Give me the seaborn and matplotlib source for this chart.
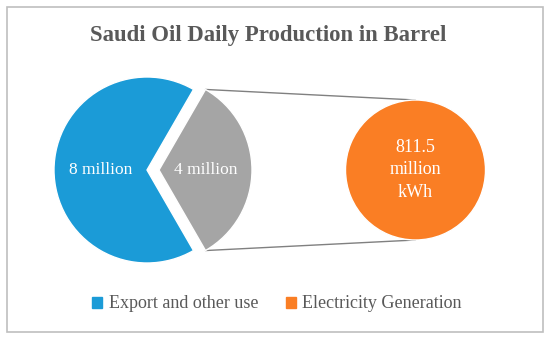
import numpy as np
import matplotlib.pyplot as plt
import matplotlib.patches as mpatches
import seaborn as sns

sns.set_theme(style='white')
plt.rcParams['font.family'] = ['Liberation Serif', 'DejaVu Serif']

title = 'Saudi Oil Daily Production in Barrel'
oil_values = [8, 4]
oil_labels = ['8 million', '4 million']
power_values = [811.5]
power_label = '811.5\nmillion\nkWh'
legend_labels = ['Export and other use', 'Electricity Generation']

blue = '#1B9BD7'
grey = '#A5A5A5'
orange = '#FA7E24'
text_grey = '#595959'

fig = plt.figure(figsize=(5.5, 3.39), dpi=100)
ax = fig.add_axes([0, 0, 1, 1])

# left pie, the smaller slice pulled out to the right
wedges, texts = ax.pie(
    oil_values, labels=oil_labels, colors=[blue, grey],
    startangle=60, center=(147, 170), radius=93, explode=[0, 12],
    labeldistance=0.5, textprops=dict(color='white', fontsize=12.5)
)
for t in texts:
    t.set_ha('center')
    t.set_va('center')

# right circle (the breakdown of the grey slice)
circ, _, ctexts = ax.pie(
    power_values, colors=[orange], center=(415.5, 170), radius=70,
    autopct=lambda p: power_label, pctdistance=0,
    textprops=dict(color='white', fontsize=13, linespacing=1.4)
)

# connector lines from the grey slice corners to the circle
g = wedges[1]
c = circ[0]
for ang in (g.theta1, g.theta2):
    a = np.deg2rad(ang)
    x0 = g.center[0] + g.r * np.cos(a)
    y0 = g.center[1] + g.r * np.sin(a)
    x1 = c.center[0]
    y1 = c.center[1] + np.sign(np.sin(a)) * c.r
    ax.plot([x0, x1], [y0, y1], color='#808080', lw=1.0, zorder=0)

ax.set_xlim(0, 550)
ax.set_ylim(339, 0)
ax.set_aspect('auto')
ax.axis('off')

fig.text(268 / 550, 1 - 36 / 339, title, ha='center', va='center',
         fontsize=16.4, fontweight='bold', color=text_grey)

handles = [mpatches.Patch(color=blue), mpatches.Patch(color=orange)]
fig.legend(handles, legend_labels, loc='center',
           bbox_to_anchor=(277 / 550, 1 - 304 / 339), ncol=2, frameon=False,
           fontsize=13, handlelength=0.55, handleheight=0.55,
           handletextpad=0.35, columnspacing=1.55, labelcolor=text_grey)

fig.add_artist(mpatches.Rectangle((7 / 550, 7 / 339), 536 / 550, 325 / 339,
                                  transform=fig.transFigure, fill=False,
                                  edgecolor='#BFBFBF', lw=1.2))

fig.savefig('out.png', dpi=100)
